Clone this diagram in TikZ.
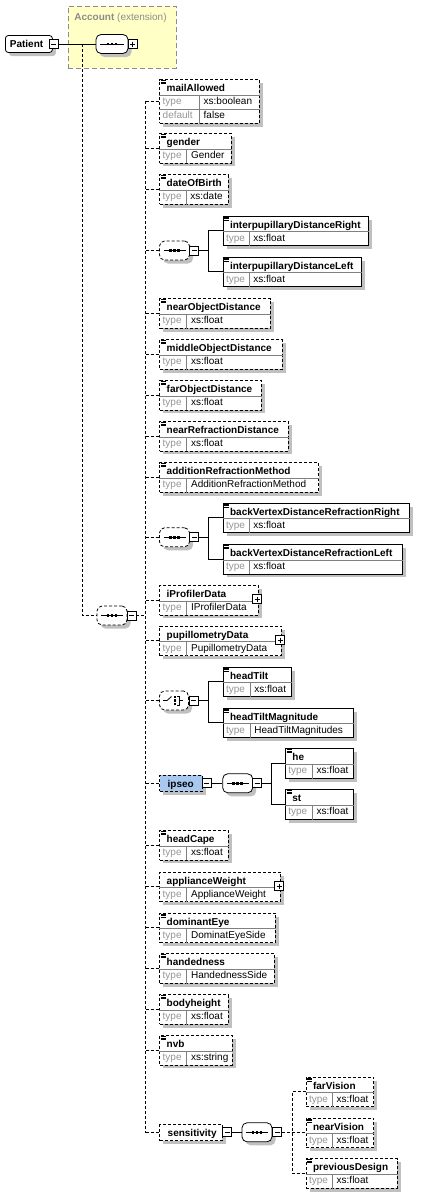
\documentclass[tikz,border=0pt]{standalone}
\usepackage{fontspec}
\setmainfont{Liberation Sans}
\usepackage{tikz}
\usepackage{xcolor}
\usetikzlibrary{shadows}

\definecolor{shadowgray}{RGB}{192,192,192}
\definecolor{typegray}{RGB}{150,150,150}
\definecolor{sepgray}{RGB}{128,128,128}
\definecolor{acctyellow}{RGB}{255,255,198}
\definecolor{acctgray}{RGB}{140,140,140}
\definecolor{selblue}{RGB}{168,200,240}

% element box: id, style, x, y, width, column, name, type
\newcommand{\elem}[8]{%
\node[#2, minimum width=#5pt] (#1) at (#3,#4) {};
\draw[sepline] ([yshift=-16pt]#1.north west) -- ([yshift=-16pt]#1.north east);
\draw[sepline] ([xshift=#6pt,yshift=-16pt]#1.north west) -- ([xshift=#6pt]#1.south west);
\node[lbl, font=\bfseries] at ([xshift=7pt,yshift=-12.5pt]#1.north west) {#7};
\node[lbl, text=typegray] at ([xshift=3pt,yshift=-25.5pt]#1.north west) {type};
\node[lbl] at ([xshift=#6pt+4pt,yshift=-25.5pt]#1.north west) {#8};
}

\begin{document}
\begin{tikzpicture}[x=1pt,y=-1pt,line width=0.8pt]
\tikzset{
  optline/.style={dash pattern=on 3pt off 2pt},
  boxshadow/.style={drop shadow={shadow xshift=3.5pt,shadow yshift=-3.5pt,fill=shadowgray,opacity=1}},
  reqbox/.style={draw, fill=white, anchor=north west, inner sep=0, minimum height=29.5pt, boxshadow},
  optbox/.style={reqbox, optline},
  namebox/.style={reqbox, minimum height=16pt},
  sepline/.style={draw=sepgray, solid, line width=0.7pt},
  lbl/.style={anchor=base west, inner sep=0},
  compbox/.style={draw, fill=white, rounded corners=5pt, minimum width=30pt, minimum height=19pt, inner sep=0, boxshadow},
  seqbox/.style={compbox, path picture={
    \draw[solid, sharp corners, black] ([xshift=4pt]path picture bounding box.west) -- ([xshift=-4pt]path picture bounding box.east);
    \foreach \dx in {-4,0,4}
      \fill[black, sharp corners] ([xshift=\dx pt]path picture bounding box.center) +(-1.3pt,-1.3pt) rectangle +(1.3pt,1.3pt);
  }},
  choicebox/.style={compbox, path picture={
    \draw[solid, sharp corners, black] ([xshift=-11pt]path picture bounding box.center) -- ([xshift=-7pt]path picture bounding box.center)
      -- ([xshift=-2.5pt,yshift=4pt]path picture bounding box.center);
    \foreach \dy in {-3.5,0,3.5}
      \fill[black, sharp corners] ([xshift=1pt,yshift=\dy pt]path picture bounding box.center) +(-1.3pt,-1.3pt) rectangle +(1.3pt,1.3pt);
    \draw[solid, sharp corners, black] ([xshift=3pt,yshift=4.5pt]path picture bounding box.center) -- ([xshift=5.5pt,yshift=4.5pt]path picture bounding box.center)
      -- ([xshift=5.5pt,yshift=-4.5pt]path picture bounding box.center) -- ([xshift=3pt,yshift=-4.5pt]path picture bounding box.center);
    \draw[solid, black] ([xshift=5.5pt]path picture bounding box.center) -- ([xshift=8.5pt]path picture bounding box.center);
  }},
  minus/.style={draw, fill=white, solid, minimum size=9pt, inner sep=0, path picture={
    \draw ([xshift=2pt]path picture bounding box.west) -- ([xshift=-2pt]path picture bounding box.east);
  }},
  plus/.style={draw, fill=white, solid, minimum size=9pt, inner sep=0, path picture={
    \draw ([xshift=2pt]path picture bounding box.west) -- ([xshift=-2pt]path picture bounding box.east);
    \draw ([yshift=-2pt]path picture bounding box.north) -- ([yshift=2pt]path picture bounding box.south);
  }}
}
\useasboundingbox (0,0) rectangle (426,1200);

% root and base type
\node[draw=acctgray, fill=acctyellow, dash pattern=on 5pt off 3pt, anchor=north west, minimum width=108pt, minimum height=62pt, inner sep=0] (acc) at (68,6) {};
\node[lbl, text=acctgray] at (74,20.5) {\textbf{Account} (extension)};
\node[reqbox, anchor=west, rounded corners=3pt, minimum width=47pt, minimum height=17pt] (pat) at (5,44) {};
\node[anchor=west, inner sep=0, font=\bfseries] at ([xshift=4.5pt]pat.west) {Patient};
\node[minus] (patm) at (53.5,44) {};
\node[seqbox, minimum width=32pt] (seq1) at (112,44) {};
\node[plus] (seq1p) at (132.5,44) {};
\coordinate (j1) at (82,44);
\node[seqbox, optline] (seq2) at (112,615.5) {};
\node[minus] (seq2m) at (131.5,615.5) {};
\coordinate (sp) at (145.5,0);

% children
\elem{mail}{optbox,minimum height=43.5pt}{159.3}{79.3}{99.7}{40}{mailAllowed}{xs:boolean}
\draw[sepline] ([yshift=-30pt]mail.north west) -- ([yshift=-30pt]mail.north east);
\node[lbl, text=typegray] at ([xshift=3pt,yshift=-39.5pt]mail.north west) {default};
\node[lbl] at ([xshift=44pt,yshift=-39.5pt]mail.north west) {false};
\elem{gender}{optbox}{159.3}{133}{71.4}{27.4}{gender}{Gender}
\elem{dob}{optbox}{159.3}{174.3}{68.4}{26.7}{dateOfBirth}{xs:date}
\node[seqbox, optline] (seq3) at (174.5,250.5) {};
\node[minus] (seq3m) at (194.3,250.5) {};
\elem{ipdR}{reqbox}{222.7}{215.7}{145.6}{26.3}{interpupillaryDistanceRight}{xs:float}
\elem{ipdL}{reqbox}{222.7}{256.7}{138.3}{26.3}{interpupillaryDistanceLeft}{xs:float}
\elem{nearObj}{optbox}{159.3}{298.3}{110.7}{27.4}{nearObjectDistance}{xs:float}
\elem{midObj}{optbox}{159.3}{339.3}{122.4}{27.4}{middleObjectDistance}{xs:float}
\elem{farObj}{optbox}{159.3}{380}{101.7}{27.4}{farObjectDistance}{xs:float}
\elem{nearRef}{optbox}{159.3}{421}{128.4}{27.4}{nearRefractionDistance}{xs:float}
\elem{addRef}{optbox}{159.3}{462.3}{159}{27.4}{additionRefractionMethod}{AdditionRefractionMethod}
\node[seqbox, optline] (seq4) at (174.5,537.3) {};
\node[minus] (seq4m) at (194.3,537.3) {};
\elem{bvdR}{reqbox}{222.7}{502.7}{186.6}{26.3}{backVertexDistanceRefractionRight}{xs:float}
\elem{bvdL}{reqbox}{222.7}{544}{179.3}{26.3}{backVertexDistanceRefractionLeft}{xs:float}
\elem{prof}{optbox}{159.3}{585}{98.4}{27.4}{iProfilerData}{IProfilerData}
\node[plus] (profp) at (257.2,599.3) {};
\elem{pupil}{optbox}{159.3}{625.7}{121.7}{27.4}{pupillometryData}{PupillometryData}
\node[plus] (pupilp) at (280.2,640) {};
\node[choicebox, optline, minimum width=29pt] (choice) at (174,700.5) {};
\node[minus] (choicem) at (193.8,700.7) {};
\elem{headTilt}{reqbox}{222.7}{666.7}{68}{27.3}{headTilt}{xs:float}
\elem{tiltMag}{reqbox}{222.7}{707.7}{130.6}{27.3}{headTiltMagnitude}{HeadTiltMagnitudes}
\node[namebox, optline, fill=selblue, minimum width=42.7pt] (ipseo) at (159.3,775) {};
\node[lbl, font=\bfseries] at ([xshift=8pt,yshift=-12.5pt]ipseo.north west) {ipseo};
\node[minus] (ipseom) at (206.8,783.3) {};
\node[seqbox] (seq5) at (237.7,783.3) {};
\node[minus] (seq5m) at (257.2,783.3) {};
\elem{he}{reqbox}{285}{748.3}{68.3}{27.3}{he}{xs:float}
\elem{st}{reqbox}{285}{789.3}{68.3}{27.3}{st}{xs:float}
\elem{headCape}{optbox}{159.3}{830}{68.4}{27.4}{headCape}{xs:float}
\elem{appW}{optbox}{159.3}{871.7}{120.7}{27.4}{applianceWeight}{ApplianceWeight}
\node[plus] (appWp) at (279.2,886.3) {};
\elem{domEye}{optbox}{159.3}{912.7}{115.7}{27.4}{dominantEye}{DominatEyeSide}
\elem{hand}{optbox}{159.3}{953.3}{114.7}{27.4}{handedness}{HandednessSide}
\elem{body}{optbox}{159.3}{994.3}{68.4}{27.4}{bodyheight}{xs:float}
\elem{nvb}{optbox}{159.3}{1035}{72.4}{27.4}{nvb}{xs:string}
\node[namebox, optline, minimum width=62.4pt] (sens) at (159.3,1124.3) {};
\node[lbl, font=\bfseries] at ([xshift=8pt,yshift=-12.5pt]sens.north west) {sensitivity};
\node[minus] (sensm) at (227.2,1132.3) {};
\node[seqbox] (seq6) at (257,1132.3) {};
\node[minus] (seq6m) at (277,1132.3) {};
\elem{farV}{optbox}{305.7}{1076.7}{67.6}{26.6}{farVision}{xs:float}
\elem{nearV}{optbox}{305.7}{1117.7}{67.6}{26.6}{nearVision}{xs:float}
\elem{prevD}{optbox}{305.7}{1158.3}{91}{26.6}{previousDesign}{xs:float}

% element icons
\foreach \e in {mail,gender,dob,ipdR,ipdL,nearObj,midObj,farObj,nearRef,addRef,bvdR,bvdL,headTilt,tiltMag,he,st,headCape,domEye,hand,body,nvb,farV,nearV,prevD}
  \foreach \k in {1.5,3,4.5}
    \draw[line width=0.7pt] ([xshift=1.5pt,yshift=-\k pt]\e.north west) -- ++(5pt,0);

% connectors
\draw (patm.east) -- (seq1.west);
\draw[optline] (j1) |- (seq2.west);
\draw[optline] (seq2m.east) -- (seq2m.east -| sp);
\draw[optline] (mail.west -| sp) -- (sens.west -| sp);
\foreach \c in {mail,gender,dob,seq3,nearObj,midObj,farObj,nearRef,addRef,seq4,prof,pupil,choice,ipseo,headCape,appW,domEye,hand,body,nvb,sens}
{
	\draw[optline] (\c.west -| sp) -- (\c.west);
}
\foreach \from/\a/\b in {seq3m/ipdR/ipdL,seq4m/bvdR/bvdL,choicem/headTilt/tiltMag,seq5m/he/st}
{
	\draw (\from.east) -- ++(9.5pt,0) coordinate (tmp);
	\draw (\a.west) -| (tmp) |- (\b.west);
}
\draw (ipseom.east) -- (seq5.west);
\draw (sensm.east) -- (seq6.west);
\draw[optline] (seq6m.east) -- ++(10pt,0) coordinate (tmp);
\draw[optline] (farV.west) -| (tmp) |- (prevD.west);
\draw[optline] (nearV.west -| tmp) -- (nearV.west);

\end{tikzpicture}
\end{document}
